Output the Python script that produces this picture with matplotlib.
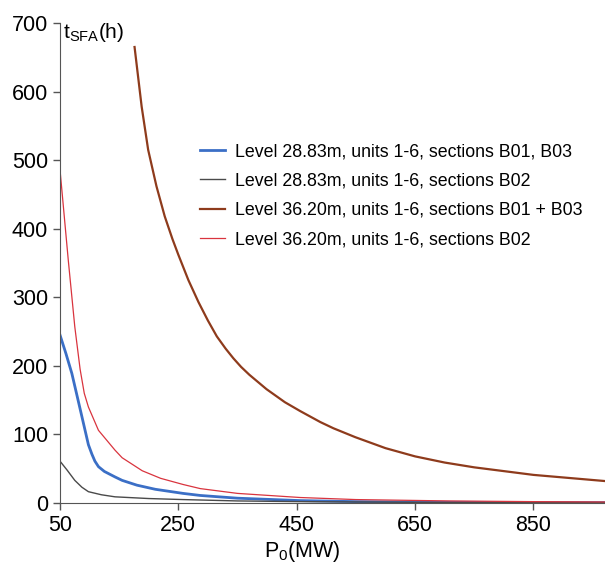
import matplotlib
matplotlib.use("Agg")
import matplotlib.pyplot as plt

plt.rcParams['font.family'] = ['Liberation Sans', 'DejaVu Sans']
plt.rcParams['mathtext.fontset'] = 'custom'
plt.rcParams['mathtext.rm'] = 'Liberation Sans'

# datos
x_azul = [50, 60, 70, 80, 87, 98, 104, 109, 115, 125, 143, 155, 180, 211, 258, 287, 350, 456, 550, 650, 800, 971]
y_azul = [245, 218, 189, 152, 126, 85, 71, 61, 53, 46, 38, 33, 26, 20, 14, 11, 7, 3.5, 2, 1.2, 0.8, 0.5]

x_gris = [50, 62, 75, 87, 98, 120, 143, 200, 258, 350, 456, 650, 971]
y_gris = [61, 48, 33, 23, 16.5, 12, 9, 6.5, 5, 3, 2, 1, 0.5]

x_marron = [176, 188, 199, 213, 227, 240, 250, 267, 284, 300, 315, 330, 343, 356, 370, 399,
            430, 456, 490, 512, 549, 600, 650, 700, 750, 850, 971]
y_marron = [665, 578, 515, 462, 418, 385, 362, 325, 293, 266, 243, 225, 211, 198.5, 187, 166,
            147, 134, 118, 109, 96, 80, 68, 59, 52, 41, 32]

x_rojo = [50, 64, 75, 84, 91, 98, 115, 143, 155, 189, 220, 258, 287, 350, 456, 550, 709, 850, 971]
y_rojo = [486, 354, 257, 195, 160, 140, 106, 77, 66, 47, 36, 27, 21, 14, 8, 5, 3, 2, 1.5]

etiquetas = ["Level 28.83m, units 1-6, sections B01, B03",
             "Level 28.83m, units 1-6, sections B02",
             "Level 36.20m, units 1-6, sections B01 + B03",
             "Level 36.20m, units 1-6, sections B02"]

fig = plt.figure(figsize=(6.05, 5.74), dpi=100)
ax = fig.add_axes([60 / 605, 71 / 574, 545 / 605, 480 / 574])

ax.plot(x_azul, y_azul, color="#3b6fc6", lw=2.0, label=etiquetas[0])
ax.plot(x_gris, y_gris, color="#4a4a4a", lw=1.0, label=etiquetas[1])
ax.plot(x_marron, y_marron, color="#8e3b1c", lw=1.6, label=etiquetas[2])
ax.plot(x_rojo, y_rojo, color="#d9343e", lw=0.9, label=etiquetas[3])

ax.set_xlim(50, 971)
ax.set_ylim(0, 700)
ax.set_xticks([50, 250, 450, 650, 850])
ax.set_yticks(range(0, 701, 100))
ax.tick_params(labelsize=15.5, length=5, color="#555555", width=1)
for lado in ["top", "right"]:
    ax.spines[lado].set_visible(False)
for lado in ["left", "bottom"]:
    ax.spines[lado].set_color("#555555")

# titulos de los ejes
ax.text(0.006, 1.005, r"t$_\mathrm{SFA}$(h)", transform=ax.transAxes,
        fontsize=15, va="top", ha="left")
fig.text(302 / 605, 1 - 551 / 574, r"P$_\mathrm{0}$(MW)", fontsize=15.5,
         ha="center", va="center")

ax.legend(loc="upper left", bbox_to_anchor=(200 / 605, 1 - 143 / 574),
          bbox_transform=fig.transFigure, frameon=False, fontsize=12.8,
          borderpad=0, borderaxespad=0, handlelength=1.4,
          handletextpad=0.56, labelspacing=0.7)

fig.savefig("out.png", dpi=100)
